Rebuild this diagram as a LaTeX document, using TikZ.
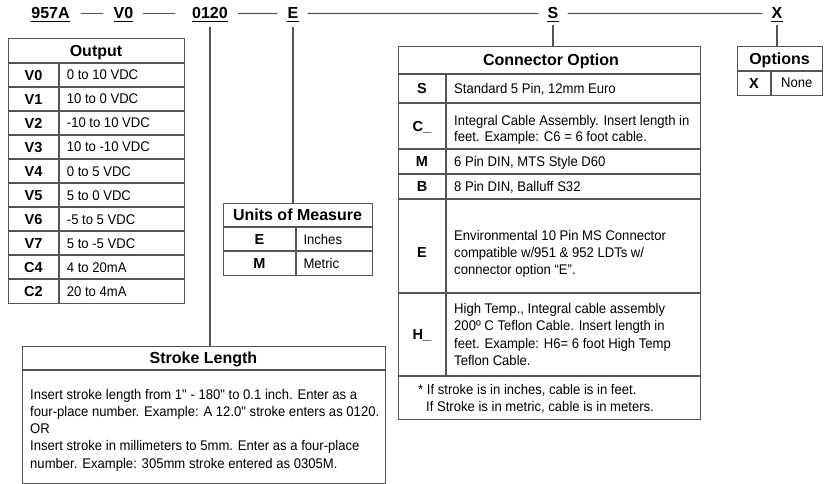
\documentclass[tikz,border=0pt]{standalone}
\usepackage{fontspec}
\setmainfont{Liberation Sans}
\newfontfamily\nrw{Liberation Sans}[FakeStretch=0.935]
\definecolor{ln}{HTML}{555555}
\begin{document}
\begin{tikzpicture}[x=1pt,y=-1pt,
  box/.style={draw=ln,line width=1.2pt,inner sep=0pt,anchor=north west},
  rule/.style={draw=ln,line width=1.2pt},
  conn/.style={draw=ln,line width=1.2pt},
  ul/.style={draw=black,line width=1pt},
  toplbl/.style={font=\fontsize{16}{19}\selectfont\bfseries,inner sep=0pt,anchor=base},
  hdr/.style={font=\fontsize{16}{19}\selectfont\bfseries,inner sep=0pt,anchor=base},
  code/.style={font=\fontsize{14.5}{17}\selectfont\bfseries,inner sep=0pt,anchor=base},
  desc/.style={font=\nrw\fontsize{14}{17}\selectfont,inner sep=0pt,anchor=base west},
]
\useasboundingbox (0,0) rectangle (827,484);

% ---------- top code line ----------
\node[toplbl] (l1) at (50.5,19) {957A};
\node[toplbl] (l2) at (123.5,19) {V0};
\node[toplbl] (l3) at (210,19) {0120};
\node[toplbl] (l4) at (293,19) {E};
\node[toplbl] (l5) at (553,19) {S};
\node[toplbl] (l6) at (777,19) {X};
\foreach \n in {l1,l2,l3,l4,l5,l6}
  \draw[ul] ([yshift=-2.8pt]\n.base west) -- ([yshift=-2.8pt]\n.base east);
\draw[conn] ([xshift=11pt]l1.east) -- ([xshift=-11pt]l2.west);
\draw[conn] ([xshift=10pt]l2.east) -- ([xshift=-17pt]l3.west);
\draw[conn] ([xshift=10pt]l3.east) -- ([xshift=-10pt]l4.west);
\draw[conn] ([xshift=9pt]l4.east) -- ([xshift=-9pt]l5.west);
\draw[conn] ([xshift=9pt]l5.east) -- ([xshift=-9pt]l6.west);

% ---------- Output table ----------
\node[box,minimum width=176pt,minimum height=265pt] (outbox) at (8,38) {};
\draw[rule] (8,63) -- (184,63);
\foreach \i in {1,...,9} \draw[rule] (8,63+24*\i) -- (184,63+24*\i);
\draw[rule] (59,63) -- (59,303);
\node[hdr] (outhdr) at (96,56.2) {Output};
\foreach \c/\d [count=\i from 0] in {V0/0 to 10 VDC,V1/10 to 0 VDC,V2/-10 to 10 VDC,V3/10 to -10 VDC,V4/0 to 5 VDC,V5/5 to 0 VDC,V6/-5 to 5 VDC,V7/5 to -5 VDC,C4/4 to 20mA,C2/20 to 4mA}{
  \node[code] (oc\i) at (33.5,80.2+24*\i) {\c};
  \node[desc] (od\i) at (66.7,80+24*\i) {\d};
}

% ---------- Units of Measure ----------
\node[box,minimum width=149pt,minimum height=72pt] (unitbox) at (223,203) {};
\draw[rule] (223,227) -- (372,227);
\draw[rule] (223,251) -- (372,251);
\draw[rule] (296,227) -- (296,275);
\node[hdr] (unithdr) at (297.5,220.7) {Units of Measure};
\node[code] (uc1) at (259.5,244.2) {E};
\node[desc] (ud1) at (303.3,244) {Inches};
\node[code] (uc2) at (259.5,268.2) {M};
\node[desc] (ud2) at (303.3,268) {Metric};

% ---------- Stroke Length ----------
\node[box,minimum width=363pt,minimum height=137pt] (strokebox) at (22,346) {};
\draw[rule] (22,370) -- (385,370);
\node[hdr] (strokehdr) at (203.5,363.7) {Stroke Length};
\node[desc] (s1) at (30,399.3) {Insert stroke length from 1" - 180" to 0.1 inch. Enter as a};
\node[desc] (s2) at (30,416.5) {four-place number. Example: A 12.0" stroke enters as 0120.};
\node[desc] (s3) at (30,433.7) {OR};
\node[desc] (s4) at (30,450.9) {Insert stroke in millimeters to 5mm. Enter as a four-place};
\node[desc] (s5) at (30,468.1) {number. Example: 305mm stroke entered as 0305M.};

% ---------- Connector Option ----------
\node[box,minimum width=302pt,minimum height=373pt] (connbox) at (398,46) {};
\foreach \y in {74,103,149,174,199,293,376} \draw[rule] (398,\y) -- (700,\y);
\draw[rule] (446,74) -- (446,376);
\node[hdr] (connhdr) at (551,65.7) {Connector Option};
\node[code] (cc1) at (422,93.7) {S};
\node[desc] (cd1) at (454,93.5) {Standard 5 Pin, 12mm Euro};
\node[code] (cc2) at (422,131.2) {C\_};
\node[desc] (cd2a) at (454,125) {Integral Cable Assembly. Insert length in};
\node[desc] (cd2b) at (454,142) {feet. Example: C6 = 6 foot cable.};
\node[code] (cc3) at (422,166.7) {M};
\node[desc] (cd3) at (454,166.5) {6 Pin DIN, MTS Style D60};
\node[code] (cc4) at (422,191.7) {B};
\node[desc] (cd4) at (454,191.5) {8 Pin DIN, Balluff S32};
\node[code] (cc5) at (422,257.4) {E};
\node[desc] (cd5a) at (454,240) {Environmental 10 Pin MS Connector};
\node[desc] (cd5b) at (454,257.2) {compatible w/951 \& 952 LDTs w/};
\node[desc] (cd5c) at (454,274.4) {connector option “E”.};
\node[code] (cc6) at (422,339.7) {H\_};
\node[desc] (cd6a) at (454,313.7) {High Temp., Integral cable assembly};
\node[desc] (cd6b) at (454,330.9) {200º C Teflon Cable. Insert length in};
\node[desc] (cd6c) at (454,348.1) {feet. Example: H6= 6 foot High Temp};
\node[desc] (cd6d) at (454,365.3) {Teflon Cable.};
\node[desc] (fn1) at (418,394.2) {* If stroke is in inches, cable is in feet.};
\node[desc] (fn2) at (426,411.2) {If Stroke is in metric, cable is in meters.};

% ---------- Options ----------
\node[box,minimum width=85pt,minimum height=49pt] (optbox) at (737,46) {};
\draw[rule] (737,71) -- (822,71);
\draw[rule] (771,71) -- (771,95);
\node[hdr] (opthdr) at (779.5,64.2) {Options};
\node[code] (xc) at (754,88.2) {X};
\node[desc] (xd) at (781,88) {None};

% ---------- vertical connectors ----------
\draw[conn] ([yshift=-8pt]l3.south) -- (l3.south |- strokebox.north);
\draw[conn] ([yshift=-8pt]l4.south) -- (l4.south |- unitbox.north);
\draw[conn] ([yshift=-6pt]l5.south) -- (l5.south |- connbox.north);
\draw[conn] ([yshift=-6pt]l6.south) -- (l6.south |- optbox.north);
\end{tikzpicture}
\end{document}
